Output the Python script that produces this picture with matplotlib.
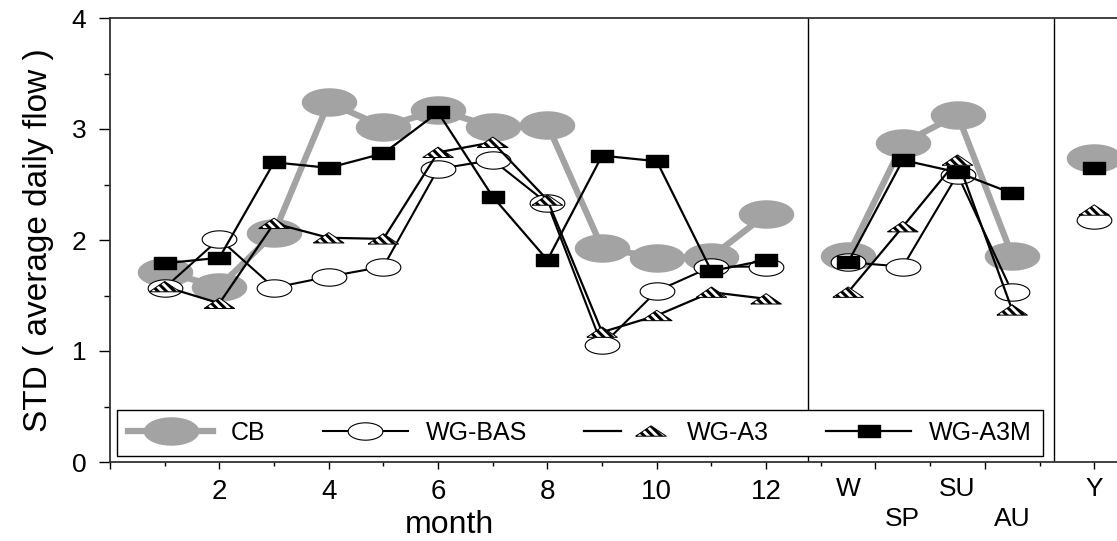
import numpy as np
import matplotlib
matplotlib.use('Agg')
import matplotlib.pyplot as plt
from matplotlib.legend_handler import HandlerTuple

plt.rcParams['font.family'] = ['Liberation Sans', 'DejaVu Sans']
plt.rcParams['hatch.linewidth'] = 2.2

# monthly values
months = [1, 2, 3, 4, 5, 6, 7, 8, 9, 10, 11, 12]
cb_month = [1.71, 1.58, 2.06, 3.24, 3.02, 3.17, 3.02, 3.04, 1.93, 1.84, 1.85, 2.23]
bas_month = [1.57, 2.01, 1.57, 1.67, 1.76, 2.64, 2.72, 2.33, 1.05, 1.54, 1.76, 1.76]
a3_month = [1.58, 1.43, 2.15, 2.02, 2.01, 2.79, 2.88, 2.36, 1.17, 1.32, 1.53, 1.47]
a3m_month = [1.79, 1.84, 2.70, 2.65, 2.78, 3.15, 2.39, 1.82, 2.76, 2.71, 1.72, 1.82]

# seasonal values
seasons = ['W', 'SP', 'SU', 'AU']
season_x = [13.5, 14.5, 15.5, 16.5]
cb_season = [1.86, 2.87, 3.13, 1.86]
bas_season = [1.80, 1.76, 2.59, 1.53]
a3_season = [1.53, 2.12, 2.72, 1.37]
a3m_season = [1.80, 2.72, 2.61, 2.42]

# whole year
year_x = [18]
cb_year = [2.74]
bas_year = [2.18]
a3_year = [2.27]
a3m_year = [2.65]

labels = ['CB', 'WG-BAS', 'WG-A3', 'WG-A3M']
grey = '#a3a3a3'

# marker shapes
t = np.linspace(0, 2 * np.pi, 60)
ellipse = np.column_stack([np.cos(t), 0.5 * np.sin(t)])
tri = np.array([[-1, -0.34], [1, -0.34], [0, 0.34], [-1, -0.34]])
rect = np.array([[-1, -0.55], [1, -0.55], [1, 0.55], [-1, 0.55], [-1, -0.55]])

fig = plt.figure(figsize=(11.17, 5.41), dpi=100)
ax = fig.add_axes([110 / 1117, 79 / 541, 1017 / 1117, 444 / 541])


def draw(x, cb, bas, a3, a3m):
    h1, = ax.plot(x, cb, color=grey, lw=4.5, marker=ellipse, ms=39,
                  mfc=grey, mec=grey, zorder=2)
    h2, = ax.plot(x, bas, color='black', lw=1.5, marker=ellipse, ms=25,
                  mfc='white', mec='black', mew=0.8, zorder=3)
    h3l, = ax.plot(x, a3, color='black', lw=1.6, zorder=4)
    h3s = ax.scatter(x, a3, s=22 ** 2, marker=tri, facecolor='white',
                     edgecolor='black', linewidths=0.7, hatch='\\\\\\\\',
                     zorder=4.5)
    h4, = ax.plot(x, a3m, color='black', lw=1.6, marker=rect, ms=16,
                  mfc='black', mec='black', zorder=5)
    return [h1, h2, (h3l, h3s), h4]


handles = draw(months, cb_month, bas_month, a3_month, a3m_month)
draw(season_x, cb_season, bas_season, a3_season, a3m_season)
draw(year_x, cb_year, bas_year, a3_year, a3m_year)

# block separators
ax.axvline(12.76, color='black', lw=1.0, zorder=1)
ax.axvline(17.26, color='black', lw=1.0, zorder=1)

ax.set_xlim(0, 18.6)
ax.set_ylim(0, 4)

ax.set_yticks([0, 1, 2, 3, 4])
ax.set_yticks(np.arange(0.5, 4, 1.0), minor=True)
ax.tick_params(axis='y', which='major', length=8, width=1, direction='out',
               labelsize=19, pad=9)
ax.tick_params(axis='y', which='minor', length=4.5, width=1, direction='out')

xt = np.arange(0, 19, 2)
ax.set_xticks(xt)
ax.set_xticklabels(['' if (v == 0 or v > 12) else str(v) for v in xt])
ax.set_xticks(np.arange(1, 19, 2), minor=True)
ax.tick_params(axis='x', which='major', length=5, width=1, direction='out',
               labelsize=20, pad=7)
ax.tick_params(axis='x', which='minor', length=3, width=1, direction='out')

for x, lab, low in zip(season_x + year_x, seasons + ['Y'],
                       [False, True, False, True, False]):
    ax.text(x, -0.128 if low else -0.061, lab, transform=ax.get_xaxis_transform(),
            ha='center', va='center', fontsize=19)

ax.set_xlabel('month', fontsize=23)
ax.xaxis.set_label_coords(0.334, -0.108)
ax.set_ylabel('STD ( average daily flow )', fontsize=24)
ax.yaxis.set_label_coords(-0.055, 0.5)

for s in ['left', 'bottom', 'top']:
    ax.spines[s].set_linewidth(1.3)
    ax.spines[s].set_color('#333333')
ax.spines['right'].set_visible(False)

leg = ax.legend(handles, labels, handler_map={tuple: HandlerTuple(ndivide=None)},
                ncol=4, mode='expand', loc='lower left',
                bbox_to_anchor=(0.0069, 0.0135, 0.9105, 0.11),
                numpoints=1, scatterpoints=1, scatteryoffsets=[0.5],
                handlelength=3.4, handletextpad=0.7, fontsize=18,
                borderaxespad=0, fancybox=False, edgecolor='black',
                framealpha=1, borderpad=0.45)
leg.get_frame().set_linewidth(1.0)
leg.set_zorder(10)

fig.savefig('out.png', dpi=100)
